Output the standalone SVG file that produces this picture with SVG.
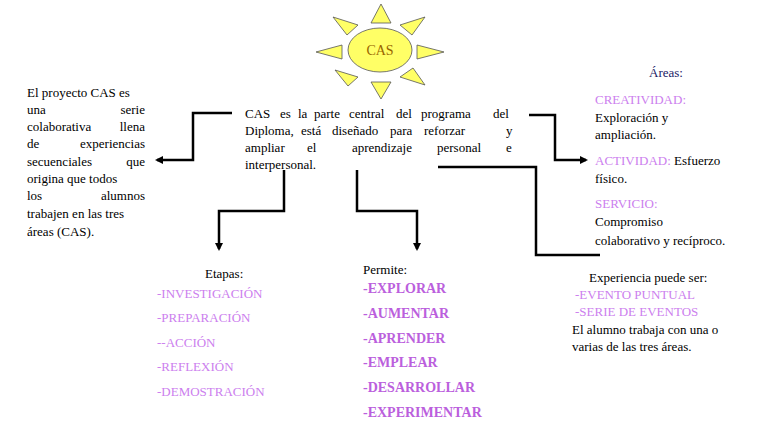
<svg xmlns="http://www.w3.org/2000/svg" width="768" height="433" viewBox="0 0 768 433" font-family="'Liberation Serif','DejaVu Serif','Times New Roman',serif">
<style>
text{font-family:"Liberation Serif","DejaVu Serif","Times New Roman",serif;font-size:13px;fill:#000}
.l{fill:#cc80ee}
.b{fill:#bb5fdd;font-weight:bold;font-size:14px}
.ray{fill:#ffff66;stroke:#555;stroke-width:0.8}
.c{fill:none;stroke:#000;stroke-width:2.5}
</style>
<defs><marker id="a" markerWidth="8" markerHeight="8" refX="6" refY="4" orient="auto" markerUnits="userSpaceOnUse"><path d="M0,0 L8,4 L0,8 z" fill="#000"/></marker></defs>
<rect width="768" height="433" fill="#fff"/>
<g id="sun">
<polygon class="ray" points="381,4 371,23 391,23"/>
<polygon class="ray" points="381,99 371,82 391,82"/>
<polygon class="ray" points="316,52 342,45 342,59"/>
<polygon class="ray" points="444,52 417,45 417,59"/>
<polygon class="ray" points="333,17 358,25 347,35"/>
<polygon class="ray" points="425,17 400,25 412,35"/>
<polygon class="ray" points="335,70 358,77 348,86"/>
<polygon class="ray" points="425,85 400,77 413,68"/>
<ellipse cx="380" cy="50" rx="32" ry="22" fill="#ffff66" stroke="#555" stroke-width="0.8"/>
<text x="380" y="55" text-anchor="middle" style="fill:#996600;font-size:14px">CAS</text>
</g>
<g id="center">
<text y="118"><tspan x="245">CAS</tspan><tspan x="280">es</tspan><tspan x="298">la</tspan><tspan x="314">parte</tspan><tspan x="349">central</tspan><tspan x="396">del</tspan><tspan x="421">programa</tspan><tspan x="493">del</tspan></text>
<text y="135"><tspan x="245">Diploma,</tspan><tspan x="301">está</tspan><tspan x="332">diseñado</tspan><tspan x="390">para</tspan><tspan x="424">reforzar</tspan><tspan x="506">y</tspan></text>
<text y="152"><tspan x="245">ampliar</tspan><tspan x="307">el</tspan><tspan x="352">aprendizaje</tspan><tspan x="437">personal</tspan><tspan x="506">e</tspan></text>
<text x="245" y="169">interpersonal.</text>
</g>
<g id="left">
<text x="27" y="97">El proyecto CAS es</text>
<text x="27" y="114">una</text><text x="145" y="114" text-anchor="end">serie</text>
<text x="27" y="131">colaborativa</text><text x="145" y="131" text-anchor="end">llena</text>
<text x="27" y="148">de</text><text x="145" y="148" text-anchor="end">experiencias</text>
<text x="27" y="166">secuenciales</text><text x="145" y="166" text-anchor="end">que</text>
<text x="27" y="183">origina que todos</text>
<text x="27" y="200">los</text><text x="145" y="200" text-anchor="end">alumnos</text>
<text x="27" y="218">trabajen en las tres</text>
<text x="27" y="236">áreas (CAS).</text>
</g>
<g id="areas">
<text x="666" y="77" text-anchor="middle" style="fill:#1a1a66">Áreas:</text>
<text x="595" y="104" class="l">CREATIVIDAD:</text>
<text x="595" y="122">Exploración y</text>
<text x="595" y="139">ampliación.</text>
<text x="595" y="165"><tspan class="l">ACTIVIDAD:</tspan> Esfuerzo</text>
<text x="595" y="183">físico.</text>
<text x="595" y="208" class="l">SERVICIO:</text>
<text x="595" y="226">Compromiso</text>
<text x="595" y="245">colaborativo y recíproco.</text>
</g>
<g id="experiencia">
<text x="589" y="282">Experiencia puede ser:</text>
<text x="575" y="299" class="l">-EVENTO PUNTUAL</text>
<text x="575" y="316" class="l">-SERIE DE EVENTOS</text>
<text x="572" y="334">El alumno trabaja con una o</text>
<text x="572" y="351">varias de las tres áreas.</text>
</g>
<g id="etapas">
<text x="205" y="278">Etapas:</text>
<text x="157" y="298" class="l">-INVESTIGACIÓN</text>
<text x="157" y="322" class="l">-PREPARACIÓN</text>
<text x="157" y="347" class="l">--ACCIÓN</text>
<text x="157" y="371" class="l">-REFLEXIÓN</text>
<text x="157" y="396" class="l">-DEMOSTRACIÓN</text>
</g>
<g id="permite">
<text x="363" y="274">Permite:</text>
<text x="363" y="293" class="b">-EXPLORAR</text>
<text x="363" y="318" class="b">-AUMENTAR</text>
<text x="363" y="343" class="b">-APRENDER</text>
<text x="363" y="367" class="b">-EMPLEAR</text>
<text x="363" y="392" class="b">-DESARROLLAR</text>
<text x="363" y="417" class="b">-EXPERIMENTAR</text>
</g>
<g id="connectors">
<path class="c" d="M232,113 H193 V160 H157" marker-end="url(#a)"/>
<path class="c" d="M284,170 V211 H219 V249" marker-end="url(#a)"/>
<path class="c" d="M357,170 V211 H417 V249" marker-end="url(#a)"/>
<path class="c" d="M529,115 H555 V160 H586" marker-end="url(#a)"/>
<path class="c" d="M438,167 H536 V255 H600"/>
</g>
</svg>
